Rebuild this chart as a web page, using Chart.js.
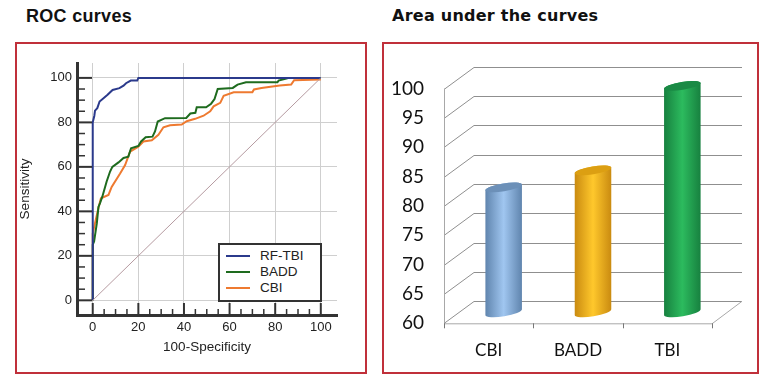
<!DOCTYPE html>
<html>
<head>
<meta charset="utf-8">
<script src="https://cdn.jsdelivr.net/npm/chart.js@4/dist/chart.umd.min.js"></script>
<style>
  html, body { margin: 0; padding: 0; background: #fff; }
  body { position: relative; width: 768px; height: 385px; overflow: hidden; }
  .title { position: absolute; top: 4px; line-height: 24px; color: #111; font-weight: bold; white-space: nowrap; }
  .box { position: absolute; top: 42px; height: 328px; border: 2px solid #c0303a; }
  canvas { position: absolute; top: 44px; }
  #legend { position: absolute; left: 218px; top: 243px; width: 100px; border: 2px solid #333; background: #fff;
    font: 13.5px "Liberation Sans", sans-serif; color: #222; padding-top: 3px; box-sizing: content-box; height: 52px; }
  #legend div { position: relative; height: 16px; line-height: 16px; padding-left: 40px; }
  #legend i { position: absolute; left: 6px; top: 7px; width: 24px; height: 2px; }
</style>
</head>
<body>
<div class="title" style="left:26px;font:bold 18px/24px 'Liberation Sans',sans-serif;letter-spacing:.3px">ROC curves</div>
<div class="title" style="left:392px;font:bold 16px/24px 'DejaVu Sans',sans-serif;letter-spacing:.25px">Area under the curves</div>
<div class="box" style="left:15px;width:348px"></div>
<div class="box" style="left:382px;width:373px"></div>
<canvas id="rocChart" width="348" height="328" style="left:17px;width:348px;height:328px"></canvas>
<canvas id="aucChart" width="373" height="328" style="left:384px;width:373px;height:328px"></canvas>
<div id="legend"></div>
<script>
// ROC curves
const rfX = [0, 0, 0.7, 1, 2, 3, 4.2, 6.5, 8.7, 11.7, 13.5, 14.6, 16.7, 19.5, 20, 100];
const rfY = [0, 80, 83, 85.3, 86.4, 89.4, 90.4, 92.4, 94.6, 95.4, 96.5, 97.6, 98.8, 98.8, 100, 100];

const baddX = [0, 0, 0.6, 1.8, 2.5, 3.2, 4.2, 6.1, 7.6, 8.6, 11.3, 13.5, 15.6, 16.8, 20, 21.2, 23.2, 26.2, 27.3, 28.5, 31.7, 41, 42.8, 45, 45.6, 49.7, 51.9, 53.4, 54.8, 61.4, 63.5, 67.2, 81, 81.5, 84.9, 86, 100];
const baddY = [0, 25, 26.5, 34.7, 42, 43.7, 46.6, 53.4, 57.9, 60, 62, 64, 64.6, 68.4, 69.4, 71.4, 73.3, 73.6, 75.9, 80.4, 81.9, 82, 84, 84.3, 86.8, 86.8, 88.4, 90.5, 95, 95.5, 97, 98, 98, 98.8, 99.7, 100, 100];

const cbiX = [0, 0, 1, 2.5, 3.6, 6.9, 8.3, 12, 14.2, 16.4, 20, 22.2, 25.9, 28.8, 31, 33.9, 39, 41.2, 44.9, 48.6, 51.5, 53, 55.9, 57.4, 61.8, 70, 70.7, 74, 82, 87, 88.3, 100];
const cbiY = [0, 30, 34.7, 41.5, 45.9, 47.4, 51, 57, 60.8, 66.9, 69.1, 71.4, 72, 74.4, 77.8, 78.7, 79, 80.5, 81.6, 83, 85, 87.2, 88.8, 92, 93.5, 93.6, 94.8, 95.5, 96.6, 97, 99, 99.3];

const diagX = [0, 100];
const diagY = [0, 100];

const rocTicks = [0, 20, 40, 60, 80, 100];
const rocMinorTicks = [5, 10, 15, 25, 30, 35, 45, 50, 55, 65, 70, 75, 85, 90, 95];
const rocNames = ["RF-TBI", "BADD", "CBI"];
const rocColors = ["#2b3a8c", "#1e6b1e", "#ee7a30"];

// Area under the curves
const aucCategories = ["CBI", "BADD", "TBI"];
const aucValues = [81.3, 84.2, 98.6];
const aucBase = 60;
const aucEdge = ["#5f84ad", "#c98a10", "#17803f"];
const aucMid = ["#a0c6f0", "#ffc82c", "#2cbb5e"];
const aucCap = ["#6c90b8", "#dc9f12", "#1a8a45"];

function pts(xs, ys) {
  return xs.map((x, i) => ({ x: x, y: ys[i] }));
}

function keepTicks(scale) {
  scale.ticks = rocTicks.map(v => ({ value: v }));
}

// ticks of the ROC plot point inwards
const inwardTicks = {
  id: "inwardTicks",
  afterDraw(chart) {
    const c = chart.ctx, xs = chart.scales.x, ys = chart.scales.y;
    c.save();
    c.strokeStyle = "#333";
    c.lineWidth = 2;
    function tick(x1, y1, x2, y2) {
      c.beginPath();
      c.moveTo(x1, y1);
      c.lineTo(x2, y2);
      c.stroke();
    }
    rocTicks.forEach(v => {
      tick(xs.getPixelForValue(v), ys.bottom, xs.getPixelForValue(v), ys.bottom - 12);
      tick(xs.left, ys.getPixelForValue(v), xs.left + 15, ys.getPixelForValue(v));
    });
    c.lineWidth = 1.5;
    rocMinorTicks.forEach(v => {
      tick(xs.getPixelForValue(v), ys.bottom, xs.getPixelForValue(v), ys.bottom - 6);
      tick(xs.left, ys.getPixelForValue(v), xs.left + 8, ys.getPixelForValue(v));
    });
    c.restore();
  },
};

const rocFont = { family: "'Liberation Sans', sans-serif", size: 13 };

new Chart(document.getElementById("rocChart"), {
  type: "line",
  data: {
    datasets: [
      { data: pts(diagX, diagY), borderColor: "#b59aa0", borderWidth: 1, pointRadius: 0 },
      { label: rocNames[0], data: pts(rfX, rfY), borderColor: rocColors[0], borderWidth: 2, pointRadius: 0 },
      { label: rocNames[1], data: pts(baddX, baddY), borderColor: rocColors[1], borderWidth: 2, pointRadius: 0 },
      { label: rocNames[2], data: pts(cbiX, cbiY), borderColor: rocColors[2], borderWidth: 2, pointRadius: 0 },
    ],
  },
  options: {
    responsive: false,
    animation: false,
    layout: { padding: { top: 19, right: 28 } },
    plugins: { legend: { display: false }, tooltip: { enabled: false } },
    scales: {
      x: {
        type: "linear",
        min: -6.9,
        max: 107.1,
        afterBuildTicks: keepTicks,
        afterFit: s => { s.height = 57; },
        grid: { color: "#cfcfcf", drawTicks: false },
        border: { color: "#333", width: 3 },
        ticks: { color: "#222", font: rocFont, padding: 5, maxRotation: 0 },
        title: { display: true, text: "100-Specificity", color: "#222", font: { family: rocFont.family, size: 13.5 }, padding: { bottom: 17 } },
      },
      y: {
        type: "linear",
        min: -6.6,
        max: 106.7,
        afterBuildTicks: keepTicks,
        afterFit: s => { s.width = 60; },
        grid: { color: "#cfcfcf", drawTicks: false },
        border: { color: "#333", width: 3 },
        ticks: { color: "#222", font: rocFont, padding: 5 },
        title: { display: true, text: "Sensitivity", color: "#222", font: { family: rocFont.family, size: 13.5 }, padding: { top: 0 } },
      },
    },
  },
  plugins: [inwardTicks],
});

const legendBox = document.getElementById("legend");
rocNames.forEach((name, i) => {
  const row = document.createElement("div");
  row.textContent = name;
  const swatch = document.createElement("i");
  swatch.style.background = rocColors[i];
  row.appendChild(swatch);
  legendBox.appendChild(row);
});

// cylinder look for the bars, second chart is the only one that has any
const depthX = 30, depthY = 22;
const tilt = -0.16;

Chart.BarElement.prototype.draw = function (c) {
  const x = this.x + depthX / 2, top = this.y - depthY / 2, base = this.base - depthY / 2;
  const rx = this.width / 2, ry = 4;
  const i = this.$context.dataIndex;
  const g = c.createLinearGradient(x - rx, 0, x + rx, 0);
  g.addColorStop(0, aucEdge[i]);
  g.addColorStop(0.5, this.options.backgroundColor);
  g.addColorStop(1, aucEdge[i]);
  c.save();
  c.beginPath();
  c.ellipse(x, base, rx, ry, tilt, 0, Math.PI);
  c.ellipse(x, top, rx, ry, tilt, Math.PI, 0);
  c.closePath();
  c.fillStyle = g;
  c.fill();
  c.beginPath();
  c.ellipse(x, top, rx, ry, tilt, 0, Math.PI * 2);
  c.fillStyle = this.options.borderColor;
  c.fill();
  c.restore();
};

// box walls and floor behind the bars
const box3d = {
  id: "box3d",
  beforeDatasetsDraw(chart) {
    const c = chart.ctx, xs = chart.scales.x, ys = chart.scales.y;
    c.save();
    c.lineWidth = 1;
    ys.ticks.forEach(t => {
      const y = Math.round(ys.getPixelForValue(t.value)) + 0.5;
      c.strokeStyle = "#8f8f8f";
      c.beginPath();
      c.moveTo(xs.left, y);
      c.lineTo(xs.left + depthX, y - depthY);
      c.lineTo(xs.right + depthX, y - depthY);
      c.stroke();
    });
    c.strokeStyle = "#a8a8a8";
    c.beginPath();
    c.moveTo(xs.left + 0.5, ys.top);
    c.lineTo(xs.left + 0.5, ys.bottom + 0.5);
    c.lineTo(xs.right, ys.bottom + 0.5);
    c.lineTo(xs.right + depthX, ys.bottom - depthY);
    c.stroke();
    const band = (xs.right - xs.left) / aucCategories.length;
    c.strokeStyle = "#777";
    for (let i = 0; i <= aucCategories.length; i++) {
      const tx = Math.round(xs.left + band * i) + 0.5;
      c.beginPath();
      c.moveTo(tx, ys.bottom);
      c.lineTo(tx, ys.bottom + 5);
      c.stroke();
    }
    c.restore();
  },
};

new Chart(document.getElementById("aucChart"), {
  type: "bar",
  data: {
    labels: aucCategories,
    datasets: [{
      data: aucValues,
      base: aucBase,
      barThickness: 37,
      clip: false,
      borderWidth: 0,
      borderColor: aucCap,
      backgroundColor: aucMid,
    }],
  },
  options: {
    responsive: false,
    animation: false,
    layout: { padding: { top: 44.7, right: 45 } },
    plugins: { legend: { display: false }, tooltip: { enabled: false } },
    scales: {
      x: {
        afterFit: s => { s.height = 48.7; },
        grid: { display: false, drawTicks: false },
        border: { display: false },
        ticks: { color: "#111", font: { family: "Lato, sans-serif", size: 17 }, padding: 17 },
      },
      y: {
        min: aucBase,
        max: 100,
        afterFit: s => { s.width = 60; },
        grid: { display: false, drawTicks: false },
        border: { display: false },
        ticks: { stepSize: 5, color: "#111", font: { family: "Lato, sans-serif", size: 19 }, padding: 20 },
      },
    },
  },
  plugins: [box3d],
});
</script>
</body>
</html>
